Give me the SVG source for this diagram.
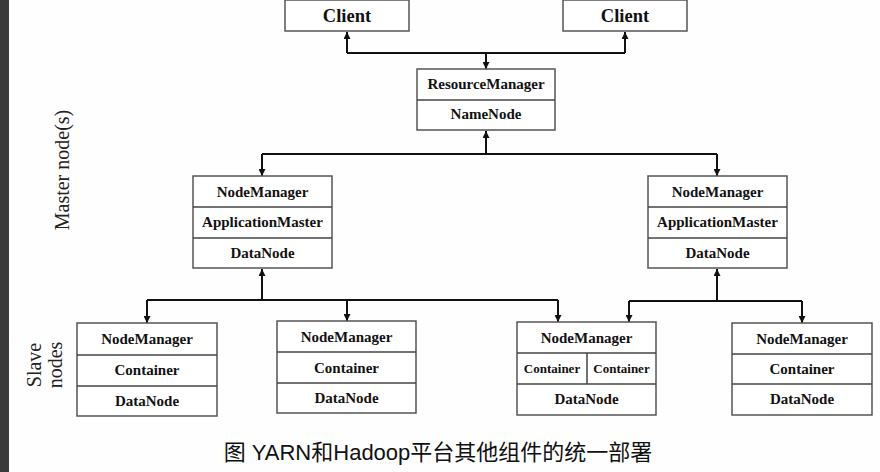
<svg xmlns="http://www.w3.org/2000/svg" width="880" height="472" viewBox="0 0 880 472">
<style>
.box{fill:#fff;stroke:#555;stroke-width:1.5}
.div{stroke:#444;stroke-width:1.5;fill:none}
.t{font-family:"Liberation Serif","Times New Roman",serif;font-weight:bold;font-size:15px;fill:#111;text-anchor:middle}
.ts{font-size:13px}
.tc{font-size:18.5px}
.side{font-family:"Liberation Serif","Times New Roman",serif;font-size:20px;fill:#222;text-anchor:middle}
.cap{font-family:"Liberation Sans",Arial,"Noto Sans CJK SC",sans-serif;font-size:22px;fill:#111;text-anchor:middle}
.c{stroke:#111;stroke-width:2;fill:none}
</style>
<defs>
<marker id="ah" viewBox="0 0 10 10" refX="10" refY="5" markerWidth="7" markerHeight="7" markerUnits="userSpaceOnUse" orient="auto">
<path d="M0,0 L10,5 L0,10 z" fill="#111"/>
</marker>
</defs>
<rect x="0" y="0" width="880" height="472" fill="#fefefe"/>
<rect x="0" y="0" width="9" height="472" fill="#3a3a3a"/>

<text class="side" transform="translate(69,170) rotate(-90)">Master node(s)</text>
<text class="side" transform="translate(41,365) rotate(-90)">Slave</text>
<text class="side" transform="translate(62,365) rotate(-90)">nodes</text>

<g id="connectors">
<path class="c" d="M347,53 H625"/>
<path class="c" d="M347,53 V32" marker-end="url(#ah)"/>
<path class="c" d="M625,53 V32" marker-end="url(#ah)"/>
<path class="c" d="M486,53 V69" marker-end="url(#ah)"/>
<path class="c" d="M262,154 H717"/>
<path class="c" d="M486,154 V131" marker-end="url(#ah)"/>
<path class="c" d="M262,154 V176" marker-end="url(#ah)"/>
<path class="c" d="M717,154 V176" marker-end="url(#ah)"/>
<path class="c" d="M147,300 H558"/>
<path class="c" d="M262,300 V269" marker-end="url(#ah)"/>
<path class="c" d="M147,300 V323" marker-end="url(#ah)"/>
<path class="c" d="M347,300 V321" marker-end="url(#ah)"/>
<path class="c" d="M558,300 V322" marker-end="url(#ah)"/>
<path class="c" d="M629,301 H802"/>
<path class="c" d="M717,301 V269" marker-end="url(#ah)"/>
<path class="c" d="M629,301 V322" marker-end="url(#ah)"/>
<path class="c" d="M802,301 V323" marker-end="url(#ah)"/>
</g>

<g id="client1">
<rect class="box" x="285" y="0" width="124" height="31"/>
<text class="t tc" x="347" y="22">Client</text>
</g>
<g id="client2">
<rect class="box" x="563" y="0" width="124" height="31"/>
<text class="t tc" x="625" y="22">Client</text>
</g>

<g id="resourcemanager">
<rect class="box" x="417" y="69" width="138" height="61"/>
<line class="div" x1="417" y1="100" x2="555" y2="100"/>
<text class="t" x="486" y="89">ResourceManager</text>
<text class="t" x="486" y="119">NameNode</text>
</g>

<g id="master1">
<rect class="box" x="193" y="176" width="139" height="92"/>
<line class="div" x1="193" y1="207" x2="332" y2="207"/>
<line class="div" x1="193" y1="238" x2="332" y2="238"/>
<text class="t" x="262.5" y="196.5">NodeManager</text>
<text class="t" x="262.5" y="227">ApplicationMaster</text>
<text class="t" x="262.5" y="257.5">DataNode</text>
</g>
<g id="master2">
<rect class="box" x="648" y="176" width="139" height="92"/>
<line class="div" x1="648" y1="207" x2="787" y2="207"/>
<line class="div" x1="648" y1="238" x2="787" y2="238"/>
<text class="t" x="717.5" y="196.5">NodeManager</text>
<text class="t" x="717.5" y="227">ApplicationMaster</text>
<text class="t" x="717.5" y="257.5">DataNode</text>
</g>

<g id="slave1">
<rect class="box" x="77" y="323" width="140" height="93"/>
<line class="div" x1="77" y1="355" x2="217" y2="355"/>
<line class="div" x1="77" y1="386" x2="217" y2="386"/>
<text class="t" x="147" y="344">NodeManager</text>
<text class="t" x="147" y="375">Container</text>
<text class="t" x="147" y="406">DataNode</text>
</g>
<g id="slave2">
<rect class="box" x="277" y="321" width="139" height="92"/>
<line class="div" x1="277" y1="352" x2="416" y2="352"/>
<line class="div" x1="277" y1="383" x2="416" y2="383"/>
<text class="t" x="346.5" y="342">NodeManager</text>
<text class="t" x="346.5" y="373">Container</text>
<text class="t" x="346.5" y="403">DataNode</text>
</g>
<g id="slave3">
<rect class="box" x="517" y="322" width="139" height="93"/>
<line class="div" x1="517" y1="353" x2="656" y2="353"/>
<line class="div" x1="517" y1="384" x2="656" y2="384"/>
<line class="div" x1="587" y1="353" x2="587" y2="384"/>
<text class="t" x="586.5" y="343">NodeManager</text>
<text class="t ts" x="552" y="373">Container</text>
<text class="t ts" x="621.5" y="373">Container</text>
<text class="t" x="586.5" y="404">DataNode</text>
</g>
<g id="slave4">
<rect class="box" x="732" y="323" width="140" height="92"/>
<line class="div" x1="732" y1="354" x2="872" y2="354"/>
<line class="div" x1="732" y1="384" x2="872" y2="384"/>
<text class="t" x="802" y="344">NodeManager</text>
<text class="t" x="802" y="374">Container</text>
<text class="t" x="802" y="404">DataNode</text>
</g>

<text class="cap" x="438" y="460">图 YARN和Hadoop平台其他组件的统一部署</text>
</svg>
